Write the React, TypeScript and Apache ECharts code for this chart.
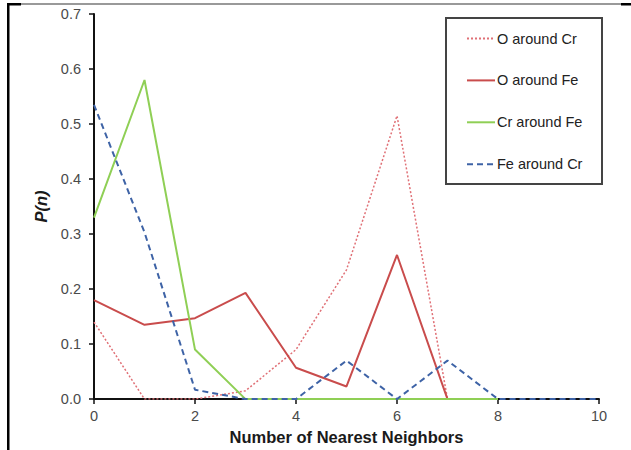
import React, { useEffect, useRef } from "react";
import * as echarts from "echarts";

const neighbors = [0, 1, 2, 3, 4, 5, 6, 7, 8, 9, 10];
const oAroundCr = [0.14, 0, 0, 0.015, 0.09, 0.235, 0.515, 0];
const oAroundFe = [0.18, 0.135, 0.147, 0.193, 0.057, 0.023, 0.262, 0];
const crAroundFe = [0.33, 0.58, 0.09, 0, 0, 0, 0, 0, 0];
const feAroundCr = [0.535, 0.303, 0.017, 0, 0, 0.07, 0, 0.07, 0, 0, 0];
const seriesNames = ["O around Cr", "O around Fe", "Cr around Fe", "Fe around Cr"];

const pairs = (vals: number[]) => vals.map((v, i) => [neighbors[i], v]);

export default function App() {
  const ref = useRef<HTMLDivElement>(null);
  useEffect(() => {
    const chart = echarts.init(ref.current!, null, { renderer: "svg" });
    const font = "Liberation Sans, Arial, sans-serif";
    chart.setOption({
      animation: false,
      backgroundColor: "#ffffff",
      textStyle: { fontFamily: font },
      grid: { left: 94, right: 32, top: 14, bottom: 50 },
      xAxis: {
        type: "value",
        min: 0,
        max: 10,
        interval: 2,
        name: "Number of Nearest Neighbors",
        nameLocation: "middle",
        nameGap: 28,
        nameTextStyle: { fontFamily: font, fontSize: 16.5, fontWeight: "bold", color: "#1a1a1a" },
        axisLine: { onZero: false, lineStyle: { color: "#111", width: 2 } },
        axisTick: { show: true, length: 5, lineStyle: { color: "#111", width: 1.5 } },
        axisLabel: { fontFamily: font, fontSize: 14.5, color: "#4a4a4a", margin: 9 },
        splitLine: { show: false },
      },
      yAxis: {
        type: "value",
        min: 0,
        max: 0.7,
        interval: 0.1,
        name: "P(n)",
        nameLocation: "middle",
        nameGap: 40,
        nameRotate: 90,
        nameTextStyle: { fontFamily: font, fontSize: 16.5, fontWeight: "bold", fontStyle: "italic", color: "#1a1a1a" },
        axisLine: { show: true, lineStyle: { color: "#111", width: 2 } },
        axisTick: { show: true, length: 5, lineStyle: { color: "#111", width: 1.5 } },
        axisLabel: { fontFamily: font, fontSize: 14.5, color: "#4a4a4a", margin: 13, formatter: (v: number) => v.toFixed(1) },
        splitLine: { show: false },
      },
      legend: {
        orient: "vertical",
        left: 466,
        top: 31,
        itemWidth: 28,
        itemHeight: 16,
        itemGap: 26.9,
        padding: 0,
        itemStyle: { opacity: 0, borderWidth: 0 },
        textStyle: { fontFamily: font, fontSize: 14.5, color: "#222", padding: [0, 0, 0, -3] },
        data: seriesNames,
      },
      graphic: [
        { type: "rect", shape: { x: 446, y: 18, width: 156, height: 166 }, style: { fill: "none", stroke: "#444", lineWidth: 2 }, z: 10 },
        { type: "rect", shape: { x: 7, y: 3, width: 2.5, height: 447 }, style: { fill: "#000" }, z: 10 },
        { type: "rect", shape: { x: 7, y: 3, width: 14, height: 2.5 }, style: { fill: "#000" }, z: 10 },
        { type: "line", shape: { x1: 21, y1: 4, x2: 621, y2: 4 }, style: { stroke: "#777", lineWidth: 1.5 }, z: 10 },
        { type: "rect", shape: { x: 621, y: 3, width: 10, height: 2.5 }, style: { fill: "#000" }, z: 10 },
      ],
      series: [
        {
          name: seriesNames[0],
          type: "line",
          symbol: "none",
          data: pairs(oAroundCr),
          lineStyle: { color: "#e07076", width: 1.5, type: [2, 2] },
          itemStyle: { color: "#e07076" },
          z: 2,
        },
        {
          name: seriesNames[1],
          type: "line",
          symbol: "none",
          data: pairs(oAroundFe),
          lineStyle: { color: "#c94c4c", width: 2 },
          itemStyle: { color: "#c94c4c" },
          z: 3,
        },
        {
          name: seriesNames[2],
          type: "line",
          symbol: "none",
          data: pairs(crAroundFe),
          lineStyle: { color: "#8fcf55", width: 2 },
          itemStyle: { color: "#8fcf55" },
          z: 4,
        },
        {
          name: seriesNames[3],
          type: "line",
          symbol: "none",
          data: pairs(feAroundCr),
          lineStyle: { color: "#3e63a6", width: 2, type: [6, 4] },
          itemStyle: { color: "#3e63a6" },
          z: 5,
        },
      ],
    });
    return () => chart.dispose();
  }, []);
  return <div ref={ref} style={{ position: "fixed", left: 0, top: 0, width: 631, height: 450 }} />;
}
